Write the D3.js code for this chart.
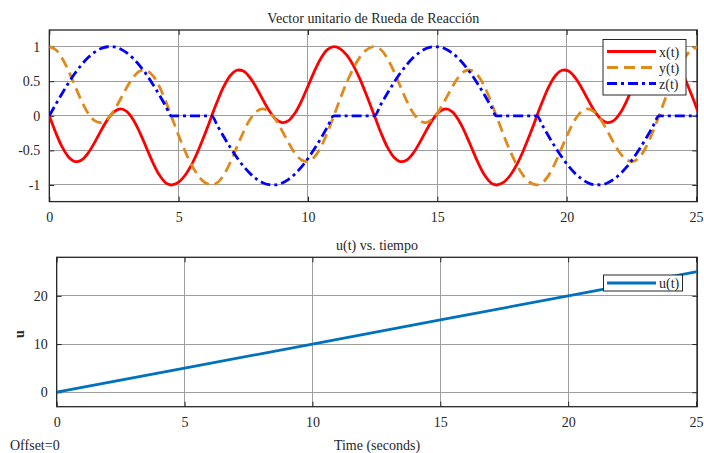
<!DOCTYPE html>
<html><head><meta charset="utf-8">
<script src="https://cdn.jsdelivr.net/npm/d3@7/dist/d3.min.js"></script>
<style>body{margin:0;background:#fff}svg{display:block}</style>
</head><body>
<svg id="c" width="704" height="453"></svg>
<script>
// ---- data ----
const time = [0,0.25,0.5,0.75,1,1.25,1.5,1.75,2,2.25,2.5,2.75,3,3.25,3.5,3.75,4,4.25,4.5,4.71,4.75,5,5.25,5.5,5.75,6,6.25,6.28,6.5,6.75,7,7.25,7.5,7.75,8,8.25,8.5,8.75,9,9.25,9.5,9.75,10,10.25,10.5,10.75,11,11.25,11.5,11.75,12,12.25,12.5,
  12.57,12.82,13.07,13.32,13.57,13.82,14.07,14.32,14.57,14.82,15.07,15.32,15.57,15.82,16.07,16.32,16.57,16.82,17.07,17.28,17.32,17.57,17.82,18.07,18.32,18.57,18.82,18.85,19.07,19.32,19.57,19.82,20.07,20.32,20.57,20.82,21.07,21.32,21.57,21.82,22.07,22.32,22.57,22.82,23.07,23.32,23.57,23.82,24.07,24.32,24.57,24.82,25.07];
const xValues = [0,-0.244,-0.453,-0.598,-0.661,-0.638,-0.539,-0.387,-0.214,-0.055,0.057,0.099,0.059,-0.061,-0.242,-0.458,-0.673,-0.853,-0.968,-1,-0.999,-0.959,-0.859,-0.706,-0.508,-0.279,-0.033,0,0.213,0.428,0.583,0.658,0.646,0.556,0.410,0.237,0.074,-0.046,-0.098,-0.069,0.041,0.215,0.428,0.646,0.832,0.957,1,0.968,0.876,0.729,0.537,0.311,0.066,
  0,-0.244,-0.453,-0.598,-0.661,-0.638,-0.539,-0.387,-0.214,-0.055,0.057,0.099,0.059,-0.061,-0.242,-0.458,-0.673,-0.853,-0.968,-1,-0.999,-0.959,-0.859,-0.706,-0.508,-0.279,-0.033,0,0.213,0.428,0.583,0.658,0.646,0.556,0.410,0.237,0.074,-0.046,-0.098,-0.069,0.041,0.215,0.428,0.646,0.832,0.957,1,0.968,0.876,0.729,0.537,0.311,0.066];
const yValues = [1,0.955,0.829,0.642,0.425,0.212,0.038,-0.070,-0.098,-0.044,0.077,0.240,0.412,0.558,0.647,0.657,0.581,0.425,0.209,0,-0.038,-0.284,-0.512,-0.709,-0.861,-0.960,-0.999,-1,-0.966,-0.850,-0.670,-0.453,-0.239,-0.058,0.060,0.099,0.056,-0.058,-0.217,-0.390,-0.541,-0.638,-0.660,-0.596,-0.450,-0.240,0,0.252,0.483,0.685,0.844,0.950,0.998,
  1,0.955,0.829,0.642,0.425,0.212,0.038,-0.070,-0.098,-0.044,0.077,0.240,0.412,0.558,0.647,0.657,0.581,0.425,0.209,0,-0.038,-0.284,-0.512,-0.709,-0.861,-0.960,-0.999,-1,-0.966,-0.850,-0.670,-0.453,-0.239,-0.058,0.060,0.099,0.056,-0.058,-0.217,-0.390,-0.541,-0.638,-0.660,-0.596,-0.450,-0.240,0,0.252,0.483,0.685,0.844,0.950,0.998];
const zValues = [0,0.166,0.327,0.479,0.618,0.740,0.842,0.919,0.972,0.998,0.995,0.966,0.909,0.828,0.723,0.599,0.457,0.303,0.141,0,0,0,0,0,0,0,0,0,-0.144,-0.306,-0.460,-0.601,-0.725,-0.829,-0.910,-0.967,-0.996,-0.997,-0.971,-0.918,-0.840,-0.739,-0.617,-0.477,-0.325,-0.163,0,0,0,0,0,0,0,
  0,0.166,0.327,0.479,0.618,0.740,0.842,0.919,0.972,0.998,0.995,0.966,0.909,0.828,0.723,0.599,0.457,0.303,0.141,0,0,0,0,0,0,0,0,0,-0.144,-0.306,-0.460,-0.601,-0.725,-0.829,-0.910,-0.967,-0.996,-0.997,-0.971,-0.918,-0.840,-0.739,-0.617,-0.477,-0.325,-0.163,0,0,0,0,0,0,0];
const uTime = [0,5,10,15,20,25.05];
const uValues = [0,5,10,15,20,25.05];
const xTicks = [0,5,10,15,20,25];
const yTicksTop = [-1,-0.5,0,0.5,1];
const yTicksBottom = [0,10,20];
const seriesNames = ["x(t)","y(t)","z(t)"];
const uName = "u(t)";

// ---- drawing ----
const FONT = "'Liberation Serif','Times New Roman',serif";
const TXT = "#262626";
const svg = d3.select("#c");

function panel(cfg){
  const g = svg.append("g");
  const [x0,x1] = cfg.x.range(), [y0,y1] = cfg.y.range(); // y0 bottom, y1 top
  const id = "clip"+Math.random().toString(36).slice(2);
  svg.append("clipPath").attr("id",id).append("rect")
    .attr("x",x0).attr("y",y1).attr("width",x1-x0).attr("height",y0-y1);
  // grid
  g.append("g").selectAll("line").data(cfg.xt).join("line")
    .attr("x1",d=>cfg.x(d)).attr("x2",d=>cfg.x(d)).attr("y1",y0).attr("y2",y1)
    .attr("stroke","#9e9e9e").attr("stroke-width",1).attr("shape-rendering","crispEdges");
  g.append("g").selectAll("line").data(cfg.yt).join("line")
    .attr("y1",d=>cfg.y(d)).attr("y2",d=>cfg.y(d)).attr("x1",x0).attr("x2",x1)
    .attr("stroke","#9e9e9e").attr("stroke-width",1).attr("shape-rendering","crispEdges");
  // axes
  const ab = g.append("g").attr("transform",`translate(0,${y0})`)
    .call(d3.axisBottom(cfg.x).tickValues(cfg.xt).tickSizeInner(-5).tickSizeOuter(0).tickPadding(10).tickFormat(d3.format("d")));
  const at = g.append("g").attr("transform",`translate(0,${y1})`)
    .call(d3.axisTop(cfg.x).tickValues(cfg.xt).tickSizeInner(-5).tickSizeOuter(0).tickFormat(""));
  const al = g.append("g").attr("transform",`translate(${x0},0)`)
    .call(d3.axisLeft(cfg.y).tickValues(cfg.yt).tickSizeInner(-5).tickSizeOuter(0).tickPadding(9).tickFormat(cfg.yf));
  const ar = g.append("g").attr("transform",`translate(${x1},0)`)
    .call(d3.axisRight(cfg.y).tickValues(cfg.yt).tickSizeInner(-5).tickSizeOuter(0).tickFormat(""));
  [ab,at,al,ar].forEach(a=>{
    a.select(".domain").remove();
    a.selectAll(".tick line").attr("stroke",TXT).attr("stroke-width",1);
    a.selectAll("text").attr("fill",TXT).attr("font-family",FONT).attr("font-size",14);
  });
  // box
  g.append("rect").attr("x",x0).attr("y",y1).attr("width",x1-x0).attr("height",y0-y1)
    .attr("fill","none").attr("stroke",TXT).attr("stroke-width",1.3);
  return {g, clip:id};
}

// Top panel
const X1 = d3.scaleLinear([0,25.05],[49.3,697.3]);
const Y1 = d3.scaleLinear([-1.24,1.24],[201.6,30]);
const p1 = panel({x:X1,y:Y1,xt:xTicks,yt:yTicksTop,yf:d=>String(d)});
const styles = [
  {color:"#ff0000", dash:null, curve:d3.curveCatmullRom},
  {color:"#e08a1c", dash:"11,6", curve:d3.curveCatmullRom},
  {color:"#0000ff", dash:"10,4,3,4", curve:d3.curveMonotoneX}
];
const seriesVals = [xValues,yValues,zValues];
const linesG = svg.append("g").attr("clip-path",`url(#${p1.clip})`);
// draw order: x, y, z
seriesVals.forEach((vals,i)=>{
  const line = d3.line().x((d,k)=>X1(time[k])).y(d=>Y1(d)).curve(styles[i].curve);
  linesG.append("path").datum(vals).attr("d",line)
    .attr("fill","none").attr("stroke",styles[i].color).attr("stroke-width",2.8)
    .attr("stroke-dasharray",styles[i].dash);
});
// title
svg.append("text").attr("x",(49.3+697.3)/2).attr("y",23).attr("text-anchor","middle")
  .attr("font-family",FONT).attr("font-size",14).attr("fill",TXT).text("Vector unitario de Rueda de Reacción");
// legend top
const lg = svg.append("g");
lg.append("rect").attr("x",603).attr("y",39.5).attr("width",83).attr("height",55.5)
  .attr("fill","#fff").attr("stroke",TXT).attr("stroke-width",1);
seriesNames.forEach((n,i)=>{
  const yy = 51.5 + i*16;
  lg.append("line").attr("x1",607).attr("x2",656).attr("y1",yy).attr("y2",yy)
    .attr("stroke",styles[i].color).attr("stroke-width",2.8).attr("stroke-dasharray",styles[i].dash);
  lg.append("text").attr("x",659).attr("y",yy+5).attr("font-family",FONT).attr("font-size",14)
    .attr("fill",TXT).text(n);
});

// Bottom panel
const X2 = d3.scaleLinear([0,25.05],[56.7,697.3]);
const Y2 = d3.scaleLinear([-3,28],[406.7,257.3]);
const p2 = panel({x:X2,y:Y2,xt:xTicks,yt:yTicksBottom,yf:d=>String(d)});
const uLine = d3.line().x((d,k)=>X2(uTime[k])).y(d=>Y2(d));
svg.append("g").attr("clip-path",`url(#${p2.clip})`).append("path").datum(uValues).attr("d",uLine)
  .attr("fill","none").attr("stroke","#0072bd").attr("stroke-width",2.8);
svg.append("text").attr("x",(56.7+697.3)/2).attr("y",250).attr("text-anchor","middle")
  .attr("font-family",FONT).attr("font-size",14).attr("fill",TXT).text("u(t) vs. tiempo");
svg.append("text").attr("x",(56.7+697.3)/2).attr("y",450).attr("text-anchor","middle")
  .attr("font-family",FONT).attr("font-size",14).attr("fill",TXT).text("Time (seconds)");
svg.append("text").attr("x",10).attr("y",450)
  .attr("font-family",FONT).attr("font-size",14).attr("fill",TXT).text("Offset=0");
svg.append("text").attr("transform","translate(24,334) rotate(-90)").attr("text-anchor","middle")
  .attr("font-family",FONT).attr("font-size",14).attr("font-weight","bold").attr("fill",TXT).text("u");
const lg2 = svg.append("g");
lg2.append("rect").attr("x",603.5).attr("y",275).attr("width",79).attr("height",16)
  .attr("fill","#fff").attr("stroke",TXT).attr("stroke-width",1);
lg2.append("line").attr("x1",607).attr("x2",656).attr("y1",283).attr("y2",283)
  .attr("stroke","#0072bd").attr("stroke-width",2.8);
lg2.append("text").attr("x",659).attr("y",288).attr("font-family",FONT).attr("font-size",14)
  .attr("fill",TXT).text(uName);
</script>
</body></html>
